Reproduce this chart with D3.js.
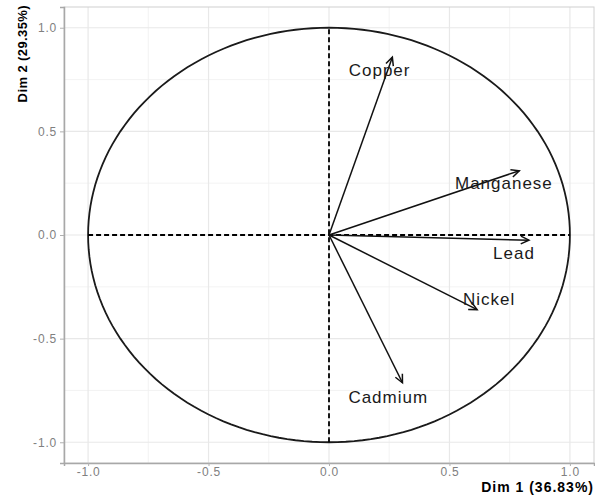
<!DOCTYPE html>
<html>
<head>
<meta charset="utf-8">
<script src="https://cdn.jsdelivr.net/npm/d3@7"></script>
<style>
  body { margin: 0; background: #fff; }
  text { font-family: "Liberation Sans", Arial, sans-serif; }
</style>
</head>
<body>
<div id="chart"></div>
<script>
// variable coordinates (correlation with dims)
var variables = ["Copper", "Manganese", "Lead", "Nickel", "Cadmium"];
var dim1 = [0.263, 0.79, 0.83, 0.615, 0.305];
var dim2 = [0.858, 0.31, -0.025, -0.36, -0.713];
// label anchor points (data units)
var labelX = [0.21, 0.726, 0.768, 0.665, 0.246];
var labelY = [0.795, 0.25, -0.087, -0.308, -0.78];
var majorTicks = [-1.0, -0.5, 0.0, 0.5, 1.0];
var minorTicks = [-0.75, -0.25, 0.25, 0.75];
var xTitle = "Dim 1 (36.83%)";
var yTitle = "Dim 2 (29.35%)";

var width = 595, height = 500;
var margin = {top: 7, right: 1, bottom: 37, left: 64};
var pw = width - margin.left - margin.right;
var ph = height - margin.top - margin.bottom;

var svg = d3.select("#chart").append("svg")
    .attr("width", width)
    .attr("height", height);

var x = d3.scaleLinear().domain([-1.1, 1.1]).range([0, pw]);
var y = d3.scaleLinear().domain([-1.1, 1.1]).range([ph, 0]);

var g = svg.append("g")
    .attr("transform", "translate(" + margin.left + "," + margin.top + ")");

// grid
g.selectAll(".minor-x").data(minorTicks).enter().append("line")
    .attr("x1", function (d) { return x(d); }).attr("x2", function (d) { return x(d); })
    .attr("y1", 0).attr("y2", ph)
    .attr("stroke", "#f0f0f0").attr("stroke-width", 0.8);
g.selectAll(".minor-y").data(minorTicks).enter().append("line")
    .attr("y1", function (d) { return y(d); }).attr("y2", function (d) { return y(d); })
    .attr("x1", 0).attr("x2", pw)
    .attr("stroke", "#f0f0f0").attr("stroke-width", 0.8);
g.selectAll(".major-x").data(majorTicks).enter().append("line")
    .attr("x1", function (d) { return x(d); }).attr("x2", function (d) { return x(d); })
    .attr("y1", 0).attr("y2", ph)
    .attr("stroke", "#e8e8e8").attr("stroke-width", 1.2);
g.selectAll(".major-y").data(majorTicks).enter().append("line")
    .attr("y1", function (d) { return y(d); }).attr("y2", function (d) { return y(d); })
    .attr("x1", 0).attr("x2", pw)
    .attr("stroke", "#e8e8e8").attr("stroke-width", 1.2);

// panel border
g.append("rect")
    .attr("x", 0).attr("y", 0).attr("width", pw).attr("height", ph)
    .attr("fill", "none").attr("stroke", "#d0d0d0").attr("stroke-width", 1);

// axes
var xAxis = g.append("g")
    .attr("transform", "translate(0," + ph + ")")
    .call(d3.axisBottom(x).tickValues(majorTicks).tickFormat(d3.format(".1f")).tickSize(3).tickPadding(1));
var yAxis = g.append("g")
    .call(d3.axisLeft(y).tickValues(majorTicks).tickFormat(d3.format(".1f")).tickSize(4).tickPadding(3));
[xAxis, yAxis].forEach(function (a) {
    a.select(".domain").attr("stroke", "#a8a8a8").attr("stroke-width", 1.5);
    a.selectAll(".tick line").attr("stroke", "#b0b0b0");
    a.selectAll(".tick text")
        .attr("fill", "#808080")
        .style("font-size", "12px")
        .style("letter-spacing", "0.8px")
        .text(function (d) { return d3.format(".1f")(d).replace("−", "-"); });
});

// unit circle
var circle = d3.range(0, 361, 2).map(function (a) {
    var r = a * Math.PI / 180;
    return [Math.cos(r), Math.sin(r)];
});
g.append("path")
    .datum(circle)
    .attr("d", d3.line().x(function (d) { return x(d[0]); }).y(function (d) { return y(d[1]); }))
    .attr("fill", "none").attr("stroke", "#1a1a1a").attr("stroke-width", 1.8);

// dashed reference lines
g.append("line")
    .attr("x1", x(-1)).attr("x2", x(1)).attr("y1", y(0)).attr("y2", y(0))
    .attr("stroke", "#000").attr("stroke-width", 1.8).attr("stroke-dasharray", "5,3");
g.append("line")
    .attr("x1", x(0)).attr("x2", x(0)).attr("y1", y(-1)).attr("y2", y(1))
    .attr("stroke", "#000").attr("stroke-width", 1.8).attr("stroke-dasharray", "5,3");

// arrows
var headLen = 9, headAng = Math.PI / 7;
variables.forEach(function (v, i) {
    var x0 = x(0), y0 = y(0), x1 = x(dim1[i]), y1 = y(dim2[i]);
    var ang = Math.atan2(y1 - y0, x1 - x0);
    g.append("line")
        .attr("x1", x0).attr("y1", y0).attr("x2", x1).attr("y2", y1)
        .attr("stroke", "#111").attr("stroke-width", 1.5);
    var p = d3.path();
    p.moveTo(x1 - headLen * Math.cos(ang - headAng), y1 - headLen * Math.sin(ang - headAng));
    p.lineTo(x1, y1);
    p.lineTo(x1 - headLen * Math.cos(ang + headAng), y1 - headLen * Math.sin(ang + headAng));
    g.append("path").attr("d", p.toString())
        .attr("fill", "none").attr("stroke", "#111").attr("stroke-width", 1.5)
        .attr("stroke-linejoin", "miter");
    g.append("text")
        .attr("x", x(labelX[i])).attr("y", y(labelY[i]))
        .attr("text-anchor", "middle").attr("dy", "0.35em")
        .attr("fill", "#1a1a1a")
        .style("font-size", "17px")
        .style("letter-spacing", "1px")
        .text(v);
});

// axis titles
svg.append("text")
    .attr("x", 594).attr("y", 492)
    .attr("text-anchor", "end")
    .style("font-size", "14px").style("font-weight", "bold").style("letter-spacing", "1px")
    .text(xTitle);
svg.append("text")
    .attr("transform", "translate(27,5) rotate(-90)")
    .attr("text-anchor", "end")
    .style("font-size", "13px").style("font-weight", "bold").style("letter-spacing", "0.4px")
    .text(yTitle);
</script>
</body>
</html>
